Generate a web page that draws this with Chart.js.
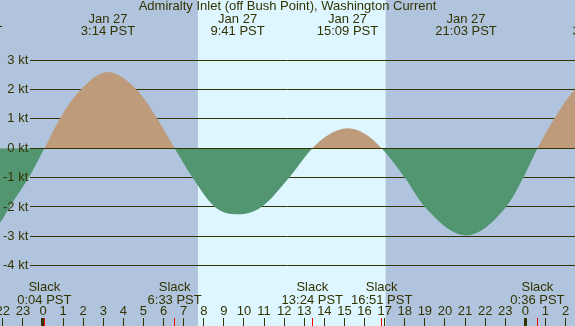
<!DOCTYPE html>
<html>
<head>
<meta charset="utf-8">
<script src="https://cdn.jsdelivr.net/npm/chart.js@4"></script>
<style>
  body { margin: 0; background: #b0c4de; }
  canvas { display: block; }
</style>
</head>
<body>
<canvas id="currentChart" width="575" height="326"></canvas>
<script>
// hours after midnight Jan 27 (PST) and current speed in knots
const times = [-3.55, -2.16, -1.66, -0.71, 0.07, 0.83, 1.88, 3.23, 4.65, 5.7, 6.55,
  7.44, 8.55, 9.68, 10.87, 12.25, 13.4, 14.25, 15.15, 16.05, 16.85,
  18.0, 19.0, 21.05, 23.04, 23.9, 24.6, 25.43, 26.48, 27.7];
const speeds = [-3.0, -2.55, -2.0, -1.0, 0, 1.0, 2.0, 2.6, 2.0, 1.0, 0,
  -1.0, -2.0, -2.25, -2.0, -1.0, 0, 0.48, 0.68, 0.48, 0,
  -1.0, -2.0, -2.97, -2.0, -1.0, 0, 1.0, 2.0, 2.45];

// max flood / max ebb labels along the top
const extremeTimes = [-3.55, 3.233, 9.683, 15.15, 21.05, 27.7];
const extremeDates = ["Jan 26", "Jan 27", "Jan 27", "Jan 27", "Jan 27", "Jan 28"];
const extremeLabels = ["20:27 PST", "3:14 PST", "9:41 PST", "15:09 PST", "21:03 PST", "3:42 PST"];

// slack water
const slackTimes = [0.067, 6.55, 13.4, 16.85, 24.6];
const slackLabels = ["0:04 PST", "6:33 PST", "13:24 PST", "16:51 PST", "0:36 PST"];

// daylight (sunrise, sunset)
const daylight = [7.71, 17.05];

// hour ticks on the bottom
const hourTicks = [-2, -1, 0, 1, 2, 3, 4, 5, 6, 7, 8, 9, 10, 11, 12, 13, 14, 15, 16, 17, 18, 19, 20, 21, 22, 23, 24, 25, 26];
const hourLabels = ["22", "23", "0", "1", "2", "3", "4", "5", "6", "7", "8", "9", "10", "11", "12",
  "13", "14", "15", "16", "17", "18", "19", "20", "21", "22", "23", "0", "1", "2"];

const yTicks = [3, 2, 1, 0, -1, -2, -3, -4];
const yLabels = ["3 kt", "2 kt", "1 kt", "0 kt", "-1 kt", "-2 kt", "-3 kt", "-4 kt"];

const NIGHT = "#b0c4de";
const DAY = "#ddf6ff";
const INK = "#333300";
const FLOOD = "#be9b7b";
const EBB = "#529571";
const SLACK_MARK = "#ff0000";

Chart.defaults.font.family = "'Liberation Sans', Arial, sans-serif";
Chart.defaults.font.size = 13;
Chart.defaults.color = INK;

const xMin = -2.139, xMax = 26.47;

// labels may hang over the canvas edge, don't let them shrink the plot
const noPadding = (s) => { s.paddingLeft = 0; s.paddingRight = 0; };

// background bands, grid gap next to the kt labels, zero line and slack labels
const tidePlugin = {
  id: "tide",
  beforeDraw(chart) {
    const { ctx, width, height } = chart;
    const xs = chart.scales.x;
    const x0 = xs.getPixelForValue(daylight[0]);
    const x1 = xs.getPixelForValue(daylight[1]);
    ctx.save();
    ctx.fillStyle = NIGHT;
    ctx.fillRect(0, 0, width, height);
    ctx.fillStyle = DAY;
    ctx.fillRect(x0, 0, x1 - x0, height);
    ctx.restore();
  },
  beforeDatasetsDraw(chart) {
    const { ctx, chartArea } = chart;
    ctx.save();
    ctx.fillStyle = NIGHT;
    ctx.fillRect(0, chartArea.top, 30, chartArea.bottom - chartArea.top);
    ctx.restore();
  },
  afterDatasetsDraw(chart) {
    const { ctx, chartArea } = chart;
    const xs = chart.scales.x;
    const y0 = Math.round(chart.scales.y.getPixelForValue(0)) + 0.5;
    ctx.save();
    ctx.strokeStyle = INK;
    ctx.lineWidth = 1;
    ctx.beginPath();
    ctx.moveTo(30, y0);
    ctx.lineTo(chartArea.right, y0);
    ctx.stroke();

    ctx.fillStyle = INK;
    ctx.font = "13px 'Liberation Sans', Arial, sans-serif";
    ctx.textAlign = "center";
    ctx.textBaseline = "middle";
    slackTimes.forEach((t, i) => {
      const x = xs.getPixelForValue(t);
      ctx.fillText("Slack", x, chartArea.bottom - 30.5);
      ctx.fillText(slackLabels[i], x, chartArea.bottom - 18);
    });
    ctx.restore();
  }
};

const ctx = document.getElementById("currentChart").getContext("2d");
const currentChart = new Chart(ctx, {
  type: "line",
  data: {
    datasets: [{
      data: times.map((t, i) => ({ x: t, y: speeds[i] })),
      borderWidth: 0,
      borderColor: "rgba(0,0,0,0)",
      pointRadius: 0,
      cubicInterpolationMode: "monotone",
      fill: { target: "origin", above: FLOOD, below: EBB }
    }]
  },
  options: {
    responsive: false,
    animation: false,
    devicePixelRatio: 1,
    events: [],
    layout: { padding: 0 },
    plugins: {
      legend: { display: false },
      tooltip: { enabled: false },
      title: {
        display: true,
        text: "Admiralty Inlet (off Bush Point), Washington Current",
        color: INK,
        font: { size: 13, weight: "normal", lineHeight: 1.0 },
        padding: { top: 0, bottom: 0 }
      }
    },
    scales: {
      x: {
        type: "linear",
        position: "bottom",
        min: xMin,
        max: xMax,
        afterBuildTicks: (s) => {
          s.ticks = hourTicks.concat(slackTimes).sort((a, b) => a - b).map((v) => ({ value: v }));
        },
        afterFit: noPadding,
        border: { display: false },
        grid: {
          drawOnChartArea: false,
          drawTicks: true,
          tickLength: 8,
          tickColor: (c) => slackTimes.includes(c.tick.value) ? SLACK_MARK : INK,
          tickWidth: (c) => c.tick.value % 24 === 0 ? 3 : 1
        },
        ticks: {
          mirror: true,
          padding: 0,
          z: 1,
          autoSkip: false,
          maxRotation: 0,
          minRotation: 0,
          color: INK,
          font: { size: 13, lineHeight: 1.0 },
          callback: (v) => {
            const i = hourTicks.indexOf(v);
            return i < 0 ? "" : hourLabels[i];
          }
        }
      },
      x2: {
        type: "linear",
        position: "top",
        min: xMin,
        max: xMax,
        afterBuildTicks: (s) => {
          s.ticks = extremeTimes.map((v) => ({ value: v }));
        },
        afterFit: noPadding,
        border: { display: false },
        grid: { display: false, drawTicks: false },
        ticks: {
          padding: 0,
          autoSkip: false,
          maxRotation: 0,
          minRotation: 0,
          color: INK,
          font: { size: 13, lineHeight: 0.92 },
          callback: (v) => {
            const i = extremeTimes.indexOf(v);
            return [extremeDates[i], extremeLabels[i]];
          }
        }
      },
      y: {
        type: "linear",
        position: "left",
        min: -5.784,
        max: 3.793,
        afterBuildTicks: (s) => {
          s.ticks = yTicks.map((v) => ({ value: v }));
        },
        afterFit: (s) => { s.width = 0; s.paddingTop = 0; s.paddingBottom = 0; },
        border: { display: false },
        grid: { color: INK, lineWidth: 1, drawTicks: false },
        ticks: {
          mirror: true,
          crossAlign: "far",
          padding: 3,
          z: 1,
          color: INK,
          font: { size: 13 },
          callback: (v) => yLabels[yTicks.indexOf(v)]
        }
      }
    }
  },
  plugins: [tidePlugin]
});
</script>
</body>
</html>
